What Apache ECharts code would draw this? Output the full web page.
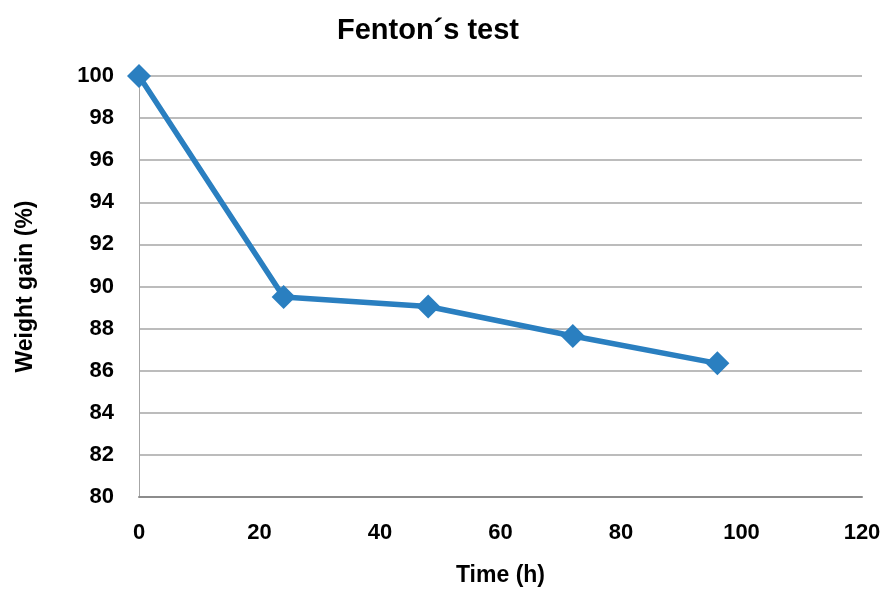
<!DOCTYPE html>
<html><head><meta charset="utf-8">
<script src="https://cdn.jsdelivr.net/npm/echarts@6/dist/echarts.min.js"></script>
<style>html,body{margin:0;padding:0;background:#fff}#c{width:890px;height:592px}</style>
</head><body><div id="c"></div>
<script>
const titleText = "Fenton´s test";
const xName = "Time (h)";
const yName = "Weight gain (%)";
const timeH = [0, 24, 48, 72, 96];
const weightGain = [100, 89.5, 89.05, 87.65, 86.35];

const font = '"Liberation Sans",Arial,sans-serif';
const chart = echarts.init(document.getElementById('c'));
chart.setOption({
  animation: false,
  title: { text: titleText, left: 423, top: 11, textAlign: 'center',
    textStyle: { fontFamily: font, fontSize: 29, fontWeight: 'bold', color: '#000' } },
  grid: { left: 139, right: 28, top: 76, bottom: 95 },
  xAxis: { type: 'value', min: 0, max: 120, interval: 20,
    name: xName, nameLocation: 'middle', nameGap: 67,
    nameTextStyle: { fontFamily: font, fontSize: 23, fontWeight: 'bold', color: '#000' },
    axisLine: { show: true, lineStyle: { color: '#8c8c8c', width: 2 } },
    axisTick: { show: false }, splitLine: { show: false },
    axisLabel: { margin: 25, fontFamily: font, fontSize: 22, fontWeight: 'bold', color: '#000' } },
  yAxis: { type: 'value', min: 80, max: 100, interval: 2,
    name: yName, nameLocation: 'middle', nameGap: 102, nameRotate: 90,
    nameTextStyle: { fontFamily: font, fontSize: 23, fontWeight: 'bold', color: '#000' },
    axisLine: { show: true, lineStyle: { color: '#a6a6a6', width: 1 } },
    axisTick: { show: false },
    splitLine: { show: true, lineStyle: { color: '#a6a6a6', width: 1.5 } },
    axisLabel: { margin: 25, fontFamily: font, fontSize: 22, fontWeight: 'bold', color: '#000' } },
  series: [{
    type: 'line',
    data: timeH.map((t, i) => [t, weightGain[i]]),
    symbol: 'diamond', symbolSize: 24,
    lineStyle: { color: '#2a7fc0', width: 5.5 },
    itemStyle: { color: '#2a7fc0' }
  }]
});
</script></body></html>
